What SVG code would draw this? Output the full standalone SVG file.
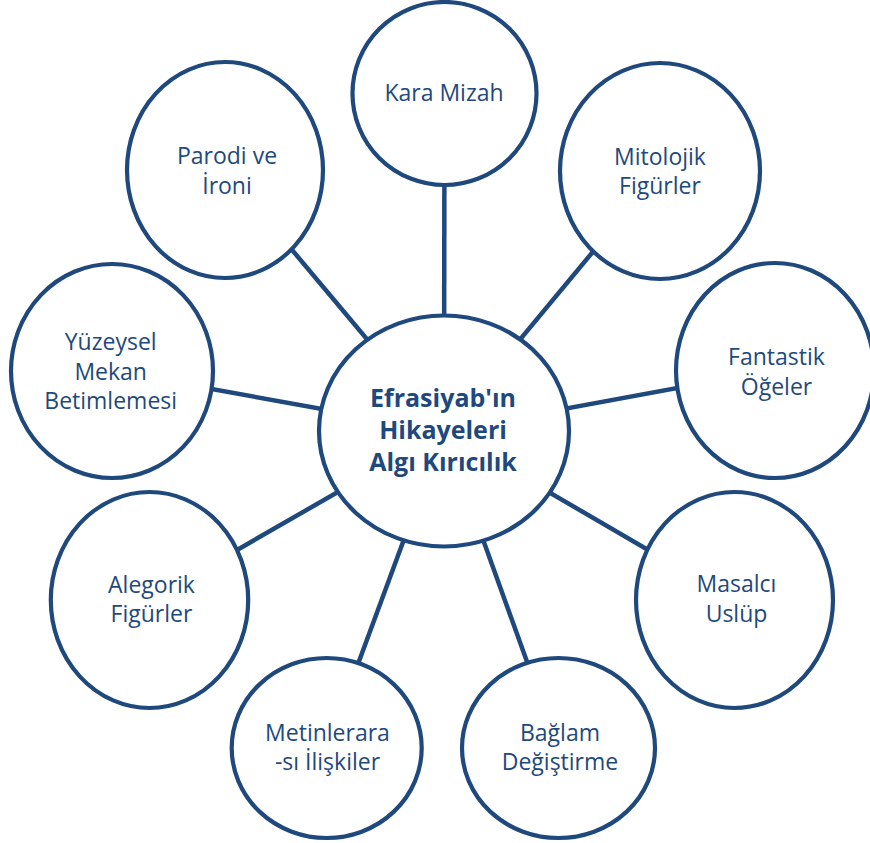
<svg xmlns="http://www.w3.org/2000/svg" width="870" height="843" viewBox="0 0 870 843">
  <style>
    .spoke { stroke: #1F497D; stroke-width: 4.5; fill: none; }
    .node { fill: #FFFFFF; stroke: #1F497D; stroke-width: 4.2; }
    .label { font-family: "Open Sans", "Noto Sans", sans-serif; font-size: 23px; fill: #1F497D; text-anchor: middle; }
    .hub-label { font-family: "Open Sans", "Noto Sans", sans-serif; font-size: 25px; font-weight: bold; fill: #1F497D; text-anchor: middle; }
  </style>
  <rect width="870" height="843" fill="#FFFFFF"/>

  <!-- spokes run from the hub centre to each satellite centre; the filled ellipses cover the inner parts -->
  <g id="connectors">
    <line class="spoke" x1="444" y1="431" x2="444.5" y2="94"/>
    <line class="spoke" x1="444" y1="431" x2="660" y2="171"/>
    <line class="spoke" x1="444" y1="431" x2="775" y2="370"/>
    <line class="spoke" x1="444" y1="431" x2="734" y2="600"/>
    <line class="spoke" x1="444" y1="431" x2="558" y2="748"/>
    <line class="spoke" x1="444" y1="431" x2="327" y2="748"/>
    <line class="spoke" x1="444" y1="431" x2="150" y2="600"/>
    <line class="spoke" x1="444" y1="431" x2="112" y2="371"/>
    <line class="spoke" x1="444" y1="431" x2="225" y2="170"/>
  </g>

  <g id="node-kara-mizah">
    <ellipse class="node" cx="444.5" cy="93.5" rx="92" ry="91.5"/>
    <text class="label" x="444" y="101">Kara Mizah</text>
  </g>

  <g id="node-mitolojik">
    <ellipse class="node" cx="660" cy="171" rx="100" ry="108"/>
    <text class="label" x="660" y="164.5">Mitolojik</text>
    <text class="label" x="660" y="194">Figürler</text>
  </g>

  <g id="node-fantastik">
    <ellipse class="node" cx="775" cy="370.5" rx="99" ry="107.5"/>
    <text class="label" x="776.5" y="365">Fantastik</text>
    <text class="label" x="776.5" y="395">Öğeler</text>
  </g>

  <g id="node-masalci">
    <ellipse class="node" cx="734.5" cy="600" rx="98.5" ry="108"/>
    <text class="label" x="736.5" y="592">Masalcı</text>
    <text class="label" x="736.5" y="621.5">Uslüp</text>
  </g>

  <g id="node-baglam">
    <ellipse class="node" cx="558.5" cy="748" rx="96.5" ry="90"/>
    <text class="label" x="560" y="740.5">Bağlam</text>
    <text class="label" x="560" y="770">Değiştirme</text>
  </g>

  <g id="node-metinlerarasi">
    <ellipse class="node" cx="326.7" cy="748" rx="95" ry="90"/>
    <text class="label" x="327.5" y="740.5">Metinlerara</text>
    <text class="label" x="327.5" y="770">-sı İlişkiler</text>
  </g>

  <g id="node-alegorik">
    <ellipse class="node" cx="149.5" cy="600" rx="98.7" ry="108"/>
    <text class="label" x="151.5" y="592.5">Alegorik</text>
    <text class="label" x="151.5" y="622">Figürler</text>
  </g>

  <g id="node-yuzeysel">
    <ellipse class="node" cx="112" cy="371" rx="101" ry="107"/>
    <text class="label" x="110.7" y="350">Yüzeysel</text>
    <text class="label" x="110.7" y="379.5">Mekan</text>
    <text class="label" x="110.7" y="409">Betimlemesi</text>
  </g>

  <g id="node-parodi">
    <ellipse class="node" cx="225" cy="170" rx="98" ry="108"/>
    <text class="label" x="227" y="164">Parodi ve</text>
    <text class="label" x="227" y="193.5">İroni</text>
  </g>

  <g id="node-hub">
    <ellipse class="node" cx="444" cy="431" rx="125" ry="115.5"/>
    <text class="hub-label" x="443" y="406.7">Efrasiyab'ın</text>
    <text class="hub-label" x="443" y="438.5">Hikayeleri</text>
    <text class="hub-label" x="443" y="470.7">Algı Kırıcılık</text>
  </g>
</svg>
